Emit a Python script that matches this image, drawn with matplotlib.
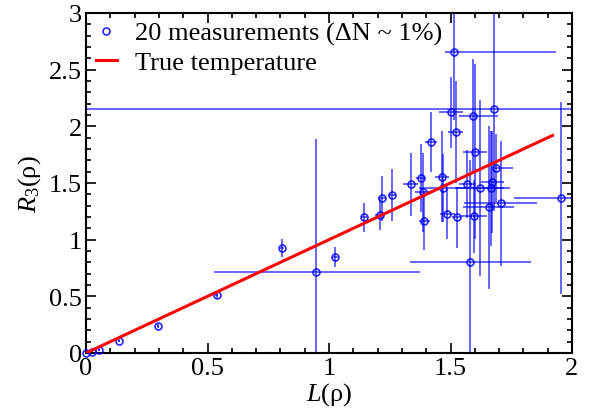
import numpy as np
import matplotlib
matplotlib.use("Agg")
import matplotlib.pyplot as plt
from matplotlib.ticker import MultipleLocator, FormatStrFormatter

plt.rcParams["font.family"] = ["Liberation Serif", "DejaVu Serif"]
plt.rcParams["mathtext.fontset"] = "custom"
plt.rcParams["mathtext.rm"] = "Liberation Serif"
plt.rcParams["mathtext.it"] = "Liberation Serif:italic"

L = [0.000, 0.023, 0.055, 0.136, 0.296, 0.538, 0.805, 0.948, 1.026, 1.145,
     1.208, 1.218, 1.259, 1.336, 1.377, 1.385, 1.392, 1.420, 1.465, 1.469,
     1.487, 1.502, 1.514, 1.521, 1.525, 1.568, 1.582, 1.594, 1.597, 1.600,
     1.620, 1.658, 1.665, 1.672, 1.679, 1.687, 1.706, 1.953]
R = [0.000, 0.010, 0.030, 0.110, 0.240, 0.512, 0.928, 0.714, 0.850, 1.197,
     1.220, 1.365, 1.397, 1.488, 1.544, 1.418, 1.167, 1.859, 1.556, 1.453,
     1.226, 2.123, 2.659, 1.953, 1.197, 1.490, 0.800, 2.094, 1.206, 1.776,
     1.456, 1.285, 1.453, 1.506, 2.153, 1.632, 1.320, 1.367]
L_err_lo = [0.004, 0.004, 0.004, 0.005, 0.005, 0.006, 0.008, 0.420, 0.010, 0.012,
            0.020, 0.015, 0.017, 0.030, 0.020, 0.030, 0.023, 0.025, 0.030, 0.100,
            0.030, 0.050, 0.037, 0.030, 0.020, 0.035, 0.250, 0.060, 0.055, 0.050,
            0.100, 0.105, 0.080, 0.047, 1.800, 0.011, 0.150, 0.190]
L_err_hi = [0.004, 0.004, 0.004, 0.005, 0.005, 0.006, 0.008, 0.426, 0.010, 0.012,
            0.020, 0.015, 0.017, 0.030, 0.020, 0.030, 0.023, 0.025, 0.030, 0.100,
            0.030, 0.050, 0.420, 0.030, 0.020, 0.035, 0.250, 0.100, 0.055, 0.050,
            0.100, 0.105, 0.080, 0.047, 1.800, 0.070, 0.150, 0.190]
R_err = [0.005, 0.005, 0.010, 0.015, 0.020, 0.030, 0.080, 1.170, 0.087, 0.126,
         0.137, 0.200, 0.230, 0.280, 0.300, 0.350, 0.260, 0.265, 0.400, 0.300,
         0.220, 0.310, 0.600, 0.450, 0.270, 0.300, 0.900, 0.500, 0.320, 0.770,
         0.780, 0.720, 0.510, 0.450, 0.900, 0.300, 0.555, 0.850]

true_L = [0.0, 1.92]
true_R = [0.0, 1.92]

fig = plt.figure(figsize=(6.01, 4.10), dpi=100)
ax = fig.add_axes([86 / 601, 1 - 354 / 410, (572 - 86) / 601, (354 - 14) / 410])

ax.errorbar(L, R, xerr=[L_err_lo, L_err_hi], yerr=R_err, fmt="none",
            ecolor="blue", elinewidth=1.2, alpha=0.7, capsize=0, zorder=2)
ax.plot(L, R, "o", ms=5, mec="blue", mfc="none", mew=1.2,
        alpha=0.85, zorder=3, clip_on=False, label="20 measurements (ΔN ~ 1%)")
ax.plot(true_L, true_R, color="red", lw=2.2, zorder=4, label="True temperature")

ax.set_xlim(0, 2)
ax.set_ylim(0, 3)
ax.xaxis.set_major_locator(MultipleLocator(0.5))
ax.xaxis.set_minor_locator(MultipleLocator(0.1))
ax.yaxis.set_major_locator(MultipleLocator(0.5))
ax.yaxis.set_minor_locator(MultipleLocator(0.1))
ax.xaxis.set_major_formatter(FormatStrFormatter("%g"))
ax.yaxis.set_major_formatter(FormatStrFormatter("%g"))
ax.tick_params(which="both", direction="in", top=True, right=True,
               labelsize=19, width=1.2)
ax.tick_params(which="major", length=7, pad=3)
ax.tick_params(which="minor", length=3.5)
for s in ax.spines.values():
    s.set_linewidth(1.5)

ax.set_xlabel(r"$L$(ρ)", fontsize=19, labelpad=1)
ax.set_ylabel(r"$R_3$(ρ)", fontsize=19, labelpad=4)

ax.legend(loc="upper left", bbox_to_anchor=(0.02, 0.975), frameon=False,
          fontsize=19, borderpad=0, borderaxespad=0, handlelength=0.8,
          handletextpad=0.7, labelspacing=0.2)

fig.savefig("out.png", dpi=100)
